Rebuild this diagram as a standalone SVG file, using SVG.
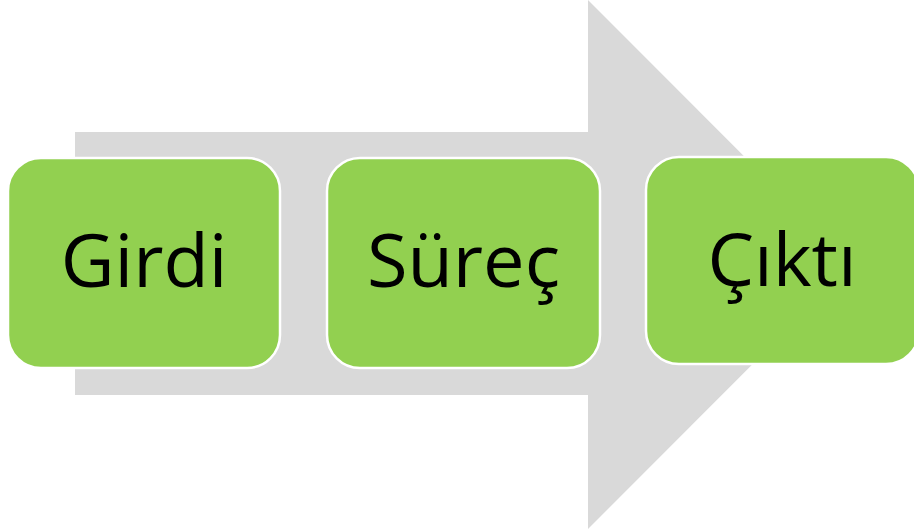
<svg xmlns="http://www.w3.org/2000/svg" width="914" height="529" viewBox="0 0 914 529">
<style>
.box{fill:#92D050;stroke:#FFFFFF;stroke-width:2.5}
.lbl{font-family:"Open Sans","Liberation Sans",sans-serif;font-size:74px;fill:#000000;text-anchor:middle}
</style>
<rect width="914" height="529" fill="#FFFFFF"/>
<g id="arrow">
<polygon points="75,132 588,132 588,0 852,264.5 588,529 588,395 75,395" fill="#D9D9D9"/>
</g>
<g id="connectors"></g>
<g id="node-girdi">
<rect class="box" x="8" y="158" width="272" height="210" rx="33" ry="33"/>
<text class="lbl" x="144" y="287">Girdi</text>
</g>
<g id="node-surec">
<rect class="box" x="327" y="158" width="273" height="210" rx="33" ry="33"/>
<text class="lbl" x="463.5" y="287">Süreç</text>
</g>
<g id="node-cikti">
<rect class="box" x="646" y="157" width="273" height="207" rx="33" ry="33"/>
<text class="lbl" x="782" y="286">Çıktı</text>
</g>
</svg>
